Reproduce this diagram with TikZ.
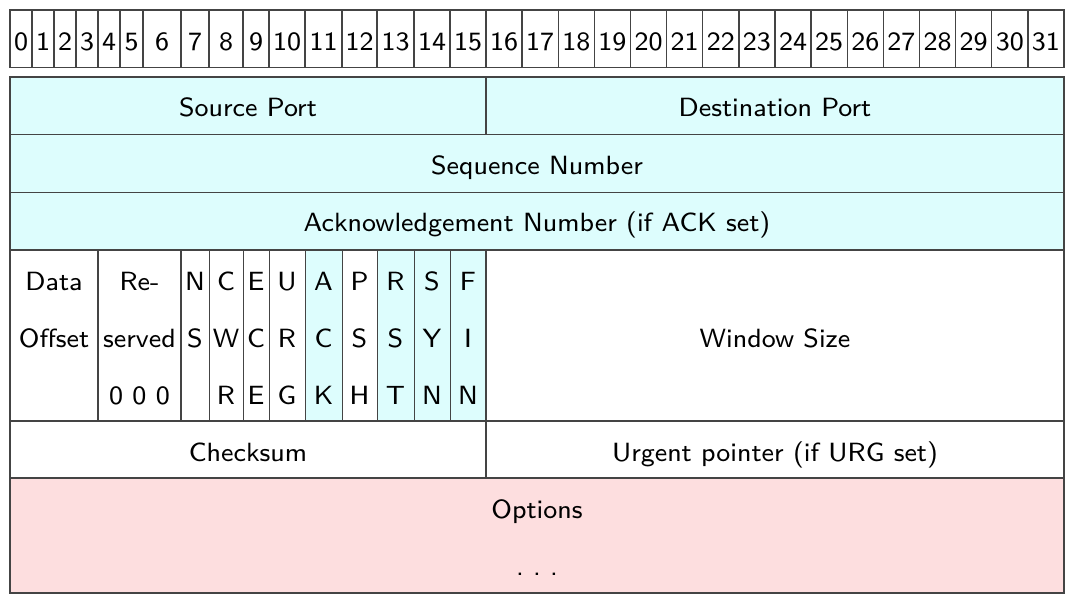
\documentclass[tikz,border=0pt]{standalone}
\usepackage{fontspec}
\usetikzlibrary{positioning}

\newfontfamily\cellfont{lmsans8-regular}[Extension=.otf]

\definecolor{gridline}{HTML}{444444}
\definecolor{hdrcyan}{HTML}{DDFDFD}
\definecolor{optpink}{HTML}{FDDEDF}

\tikzset{
  field/.style={draw=gridline, line width=0.8pt},
  flagcell/.style={draw=gridline, line width=0.5pt},
  divider/.style={draw=gridline, line width=1.3pt},
  lbl/.style={anchor=base, inner sep=0pt, font=\fontsize{15}{18}\selectfont\cellfont},
}

\begin{document}
\begin{tikzpicture}[x=0.02cm, y=-0.02cm]
    \useasboundingbox (0,0) rectangle (1074,605);

    % bit numbers
    \foreach \i/\a/\b in {0/10/32, 1/32/54, 2/54/76, 3/76/98, 4/98/120, 5/120/143,
        6/143/181, 7/181/209, 8/209/243, 9/243/269, 10/269/305, 11/305/342,
        12/342/377, 13/377/414, 14/414/450, 15/450/486}
    {
        \draw[field] (\a,10) rectangle (\b,67.7);
        \node[lbl] (bit\i) at ({(\a+\b)/2},50) {\i};
    }
    \foreach \i in {16,...,31}
    {
        \pgfmathsetmacro{\a}{486+(\i-16)*36.125}
        \pgfmathsetmacro{\b}{\a+36.125}
        \draw[field] (\a,10) rectangle (\b,67.7);
        \node[lbl] (bit\i) at ({(\a+\b)/2},50) {\i};
    }

    % ports, sequence, acknowledgement
    \draw[field, fill=hdrcyan] (10,77) rectangle (486,134.7);
    \draw[field, fill=hdrcyan] (486,77) rectangle (1064,134.7);
    \draw[field, fill=hdrcyan] (10,134.7) rectangle (1064,192.3);
    \draw[field, fill=hdrcyan] (10,192.3) rectangle (1064,250);
    \node[lbl] (srcport) at (248,116.5) {Source Port};
    \node[lbl] (dstport) at (775,116.5) {Destination Port};
    \node[lbl] (seqnum) at (537,174) {Sequence Number};
    \node[lbl] (acknum) at (537,231.7) {Acknowledgement Number (if ACK set)};

    % offset, reserved and flags
    \draw[field] (10,250) rectangle (98,421);
    \draw[field] (98,250) rectangle (181,421);
    \node[lbl] (offset1) at (54,290) {Data};
    \node[lbl] (offset2) at (54,347) {Offset};
    \node[lbl] (resv1) at (139.5,290) {Re-};
    \node[lbl] (resv2) at (139.5,347) {served};
    \node[lbl] (resv3) at (139.5,404) {0 0 0};
    \foreach \nm/\a/\b/\l/\m/\r/\col in {ns/181/209/N/S//white, cwr/209/243/C/W/R/white,
        ece/243/269/E/C/E/white, urg/269/305/U/R/G/white, ack/305/342/A/C/K/hdrcyan,
        psh/342/377/P/S/H/white, rst/377/414/R/S/T/hdrcyan, syn/414/450/S/Y/N/hdrcyan,
        fin/450/486/F/I/N/hdrcyan}
    {
        \draw[flagcell, fill=\col] (\a,250) rectangle (\b,421);
        \node[lbl] (\nm1) at ({(\a+\b)/2},290) {\l};
        \node[lbl] (\nm2) at ({(\a+\b)/2},347) {\m};
        \node[lbl] (\nm3) at ({(\a+\b)/2},404) {\r};
    }
    \draw[field] (486,250) rectangle (1064,421);
    \node[lbl] (window) at (775,347) {Window Size};

    % checksum, urgent pointer
    \draw[field] (10,421) rectangle (486,478);
    \draw[field] (486,421) rectangle (1064,478);
    \node[lbl] (checksum) at (248,461) {Checksum};
    \node[lbl] (urgent) at (775,461) {Urgent pointer (if URG set)};

    % options
    \draw[field, fill=optpink] (10,478) rectangle (1064,593);
    \node[lbl] (options) at (537,518) {Options};
    \node[lbl] (more) at (537,575.5) {.\kern0.35em.\kern0.35em.};

    % heavier dividers
    \draw[divider] (98,250) -- (98,421);
    \draw[divider] (486,77) -- (486,134.7);
    \draw[divider] (486,250) -- (486,478);
    \draw[field] (10,77) rectangle (1064,593);
\end{tikzpicture}
\end{document}
